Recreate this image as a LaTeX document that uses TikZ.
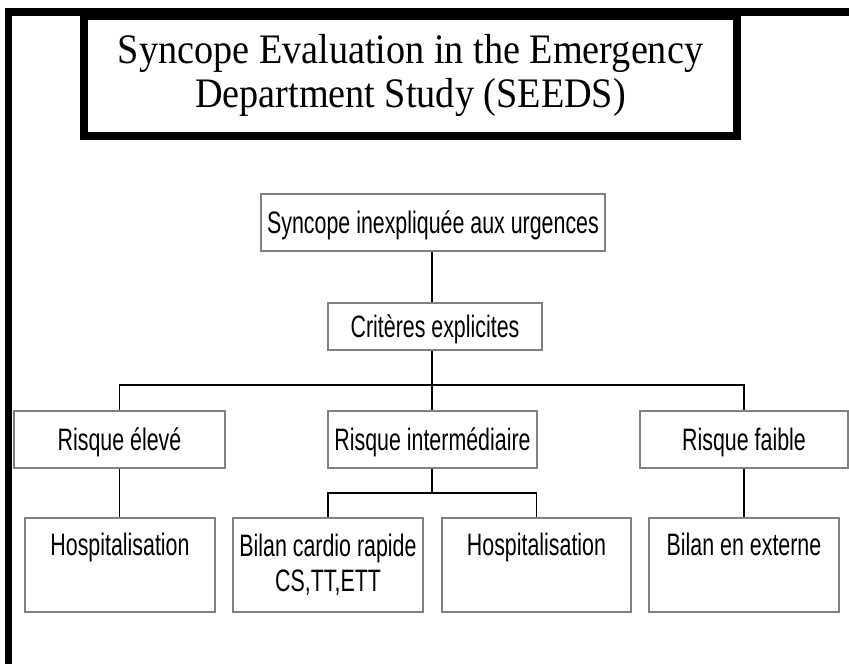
\documentclass[tikz,border=0pt]{standalone}
\usepackage{fontspec}
\newfontfamily\titlefont[FakeStretch=0.91]{Liberation Serif}
\newfontfamily\cellfont[FakeStretch=0.69]{Liberation Sans}
\definecolor{boxgray}{HTML}{808080}
\begin{document}
\begin{tikzpicture}[x=1pt,y=-1pt,
  cell/.style={draw=boxgray, line width=1.7pt, inner sep=0pt, align=center,
    font=\cellfont\fontsize{31}{35}\selectfont},
  headcell/.style={cell, minimum height=57pt, text height=22pt, text depth=0pt},
  leafcell/.style={cell, minimum width=190pt, minimum height=94pt},
  topalign/.style={text height=22.5pt, text depth=41.5pt},
  link/.style={draw=black, line width=1.8pt}]
\useasboundingbox (0,0) rectangle (849,664);

% heavy frame along left and top edges
\draw[line width=7.5pt] (8.5,680) -- (8.5,12) -- (860,12);

% title banner
\node[draw, line width=8pt, minimum width=653pt, minimum height=119.5pt,
      inner sep=0pt, align=center, font=\titlefont\fontsize{42}{44}\selectfont]
  (title) at (410.5,75.75) {Syncope Evaluation in the Emergency\\Department Study (SEEDS)};

% decision tree
\node[headcell, minimum width=344pt] (start) at (433,222.5) {Syncope inexpliquée aux urgences};
\node[headcell, minimum width=214pt, minimum height=47pt] (crit) at (435,326.5) {Critères explicites};

\node[headcell, minimum width=211pt] (high) at (119.5,439.5) {Risque élevé};
\node[headcell, minimum width=209pt] (mid) at (432.5,439.5) {Risque intermédiaire};
\node[headcell, minimum width=208pt] (low) at (744,439.5) {Risque faible};

\node[leafcell, topalign] (hosp1) at (120,565) {Hospitalisation};
\node[leafcell] (bilan) at (328,565) {Bilan cardio rapide\\CS,TT,ETT};
\node[leafcell, topalign, minimum width=189pt] (hosp2) at (536.5,565) {Hospitalisation};
\node[leafcell, topalign] (ext) at (744,565) {Bilan en externe};

% branching points
\coordinate (bus) at (432,385);
\coordinate (subbus) at (432,493);

% connectors
\draw[link] (start.south -| bus) -- (crit.north -| bus);
\draw[link] (crit.south -| bus) -- (bus);
\draw[link] (high.north) -- (high.north |- bus) -- (low.north |- bus) -- (low.north);
\draw[link] (bus) -- (mid.north -| bus);
\draw[link] (high.south) -- (hosp1.north -| high.south);
\draw[link] (mid.south -| subbus) -- (subbus);
\draw[link] (bilan.north) -- (bilan.north |- subbus) -- (hosp2.north |- subbus) -- (hosp2.north);
\draw[link] (low.south) -- (ext.north);
\end{tikzpicture}
\end{document}
